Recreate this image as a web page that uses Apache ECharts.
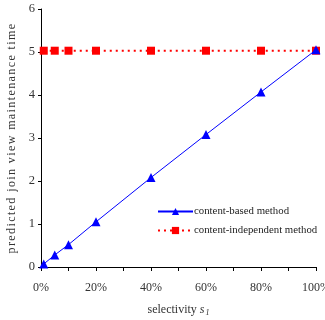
<!DOCTYPE html>
<html><head><meta charset="utf-8">
<script src="https://cdn.jsdelivr.net/npm/echarts@6/dist/echarts.min.js"></script>
<style>html,body{margin:0;padding:0;background:#fff}#c{width:325px;height:320px}</style>
</head><body><div id="c"></div>
<script>
const selectivity = [1, 5, 10, 20, 40, 60, 80, 100];
const contentBased = [0.07, 0.28, 0.52, 1.05, 2.08, 3.08, 4.07, 5.05];
const contentIndependent = [5.03, 5.03, 5.03, 5.03, 5.03, 5.03, 5.03, 5.03];
const seriesNames = ['content-based method', 'content-independent method'];
const yTitle = 'predicted join view maintenance time';

const font = 'Liberation Serif';
// letter-spaced y title via rich text tokens (same characters)
const yTitleRich = yTitle.split('').map(ch => '{s|' + ch + '}').join('');
const chart = echarts.init(document.getElementById('c'));
chart.setOption({
  animation: false,
  textStyle: {fontFamily: font},
  grid: {left: 41, right: 9, top: 9, bottom: 53, containLabel: false, outerBoundsMode: 'none'},
  legend: {
    left: 152, top: 201, orient: 'vertical', itemWidth: 35, itemHeight: 9, itemGap: 8,
    textStyle: {fontFamily: font, fontSize: 10.8, color: '#222', padding: [0,0,0,-4]},
    data: seriesNames
  },
  xAxis: {
    type: 'value', min: 0, max: 100, interval: 10,
    name: 'selectivity {i|s}{sub|1}', nameLocation: 'middle', nameGap: 36,
    nameTextStyle: {fontFamily: font, fontSize: 12, color: '#333',
      rich: {i: {fontStyle: 'italic', fontFamily: font, fontSize: 12, color: '#333'},
             sub: {fontStyle: 'italic', fontFamily: font, fontSize: 8, color: '#333', padding: [6,0,0,1]}}},
    axisLine: {lineStyle: {color: '#000', width: 1}},
    axisTick: {show: true, length: 4, lineStyle: {color: '#000'}},
    splitLine: {show: false},
    axisLabel: {fontFamily: font, fontSize: 12, color: '#333', margin: 15, showMaxLabel: true,
      formatter: v => (v % 20 === 0 ? v + '%' : '')}
  },
  yAxis: {
    type: 'value', min: 0, max: 6, interval: 1,
    name: yTitleRich, nameLocation: 'middle', nameGap: 19,
    nameTextStyle: {fontFamily: font, fontSize: 12, color: '#333',
      rich: {s: {fontFamily: font, fontSize: 12, color: '#333', padding: [0, 1.4, 0, 0]}}},
    axisLine: {show: true, lineStyle: {color: '#000', width: 1}},
    axisTick: {show: true, length: 3, lineStyle: {color: '#000'}},
    splitLine: {show: false},
    axisLabel: {fontFamily: font, fontSize: 12.5, color: '#333', margin: 6}
  },
  series: [
    {name: seriesNames[0], type: 'line', data: selectivity.map((x, i) => [x, contentBased[i]]),
     symbol: 'triangle', symbolSize: 9, color: '#0000ff',
     lineStyle: {color: '#0000ff', width: 1}, itemStyle: {color: '#0000ff'}, z: 3},
    {name: seriesNames[1], type: 'line', data: selectivity.map((x, i) => [x, contentIndependent[i]]),
     symbol: 'rect', symbolSize: 8, color: '#ff0000',
     lineStyle: {color: '#ff0000', width: 2, type: [2, 4]}, itemStyle: {color: '#ff0000'}, z: 2}
  ]
});
</script></body></html>
